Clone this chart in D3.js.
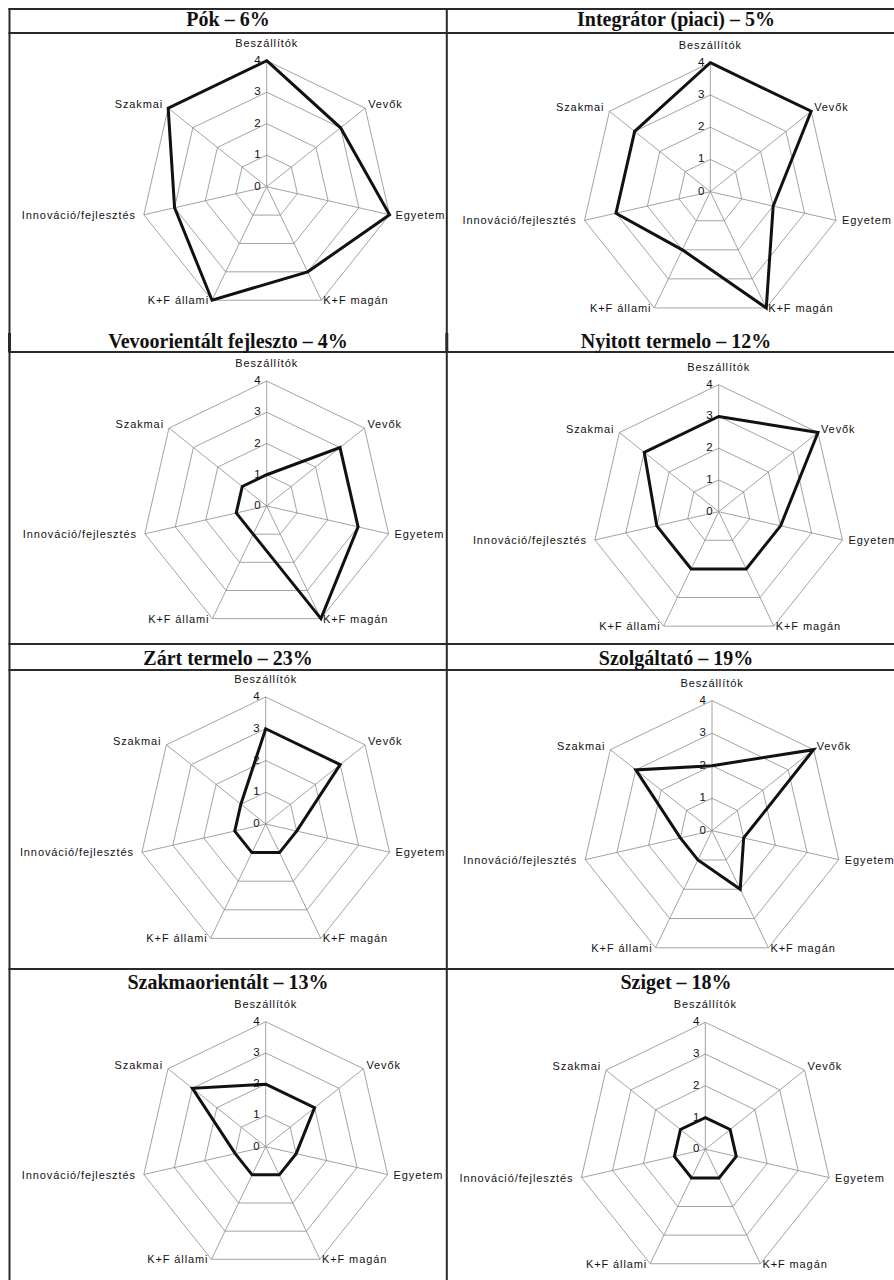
<!DOCTYPE html>
<html>
<head>
<meta charset="utf-8">
<script src="https://cdn.jsdelivr.net/npm/d3@7"></script>
<style>
  html, body { margin: 0; padding: 0; background: #fff; }
  svg { display: block; }
  .title { font-family: "Liberation Serif", "Times New Roman", serif; font-weight: bold; font-size: 20px; fill: #111; }
  .axlab { font-family: "Liberation Sans", Arial, sans-serif; font-size: 11px; letter-spacing: 0.9px; fill: #111; }
  .tick { font-family: "Liberation Sans", Arial, sans-serif; font-size: 11.5px; fill: #111; }
</style>
</head>
<body>
<svg id="chart" width="894" height="1280"></svg>
<script>
// ---- data ----
const categories = ["Beszállítók", "Vevők", "Egyetem", "K+F magán", "K+F állami", "Innováció/fejlesztés", "Szakmai"];
const tickValues = [0, 1, 2, 3, 4];
const titles = [
  "Pók – 6%", "Integrátor (piaci) – 5%",
  "Vevoorientált fejleszto – 4%", "Nyitott termelo – 12%",
  "Zárt termelo – 23%", "Szolgáltató – 19%",
  "Szakmaorientált – 13%", "Sziget – 18%"
];
const pok            = [4, 3, 4, 3, 4, 3, 4];
const integrator     = [4, 4, 2, 4, 2, 3, 3];
const vevoorientalt  = [1, 3, 3, 4, 1, 1, 1];
const nyitott        = [3, 4, 2, 2, 2, 2, 3];
const zart           = [3, 3, 1, 1, 1, 1, 1];
const szolgaltato    = [2, 4, 1, 2, 1, 1, 3];
const szakmaorientalt= [2, 2, 1, 1, 1, 1, 3];
const sziget         = [1, 1, 1, 1, 1, 1, 1];
const seriesList = [pok, integrator, vevoorientalt, nyitott, zart, szolgaltato, szakmaorientalt, sziget];

// ---- layout (positions, not data) ----
const panelLayout = [
  {cx: 266.7, cy: 186.7, r: 126, tx: 228, ty: 25.5},
  {cx: 710.3, cy: 191.7, r: 129, tx: 676, ty: 25.5},
  {cx: 266.7, cy: 506,   r: 125, tx: 228, ty: 347.5},
  {cx: 718.7, cy: 511.7, r: 127, tx: 676, ty: 347.5},
  {cx: 265.7, cy: 824,   r: 127, tx: 228, ty: 665},
  {cx: 712,   cy: 830.7, r: 130, tx: 676, ty: 665},
  {cx: 265.7, cy: 1146.7,r: 125, tx: 228, ty: 988.5},
  {cx: 705.3, cy: 1149.3,r: 127, tx: 676, ty: 988.5}
];
const labelOffsets = [
  {dx: 0,  dy: -14, anchor: "middle"},
  {dx: 3,  dy: 0,   anchor: "start"},
  {dx: 6,  dy: 4,   anchor: "start"},
  {dx: 2,  dy: 4,   anchor: "start"},
  {dx: -3, dy: 4,   anchor: "end"},
  {dx: -8, dy: 4,   anchor: "end"},
  {dx: -5, dy: 0,   anchor: "end"}
];

const svg = d3.select("#chart");
const n = categories.length;
const angle = d3.scaleLinear().domain([0, n]).range([0, 2 * Math.PI]);

// ---- table frame ----
const frame = svg.append("g").attr("stroke", "#2a2a2a").attr("fill", "none");
[9, 33, 352, 644, 670, 969].forEach(y => {
  frame.append("line").attr("x1", 8.5).attr("x2", 894).attr("y1", y).attr("y2", y).attr("stroke-width", 2.2);
});
[9.5, 446.8].forEach(x => {
  frame.append("line").attr("x1", x).attr("x2", x).attr("y1", 8).attr("y2", 1280).attr("stroke-width", 2);
  frame.append("line").attr("x1", x).attr("x2", x).attr("y1", 333).attr("y2", 352).attr("stroke-width", 3);
});

// ---- panels ----
panelLayout.forEach((p, k) => {
  const values = seriesList[k];
  const r = d3.scaleLinear().domain([0, 4]).range([0, p.r]);
  const g = svg.append("g").attr("transform", `translate(${p.cx},${p.cy})`);
  const pt = (i, v) => [Math.sin(angle(i)) * r(v), -Math.cos(angle(i)) * r(v)];

  // grid polygons
  tickValues.filter(t => t > 0).forEach(t => {
    g.append("path")
      .attr("d", d3.line().curve(d3.curveLinearClosed)(d3.range(n).map(i => pt(i, t))))
      .attr("fill", "none").attr("stroke", "#8c8c8c").attr("stroke-width", 0.8);
  });
  // spokes
  d3.range(n).forEach(i => {
    const e = pt(i, 4);
    g.append("line").attr("x1", 0).attr("y1", 0).attr("x2", e[0]).attr("y2", e[1])
      .attr("stroke", "#8c8c8c").attr("stroke-width", 0.8);
  });
  // tick labels
  tickValues.forEach(t => {
    g.append("text").attr("class", "tick")
      .attr("x", -6).attr("y", -r(t) + 3)
      .attr("text-anchor", "end").text(t);
  });
  // axis labels
  categories.forEach((c, i) => {
    const e = pt(i, 4), o = labelOffsets[i];
    g.append("text").attr("class", "axlab")
      .attr("x", e[0] + o.dx).attr("y", e[1] + o.dy)
      .attr("text-anchor", o.anchor).text(c);
  });
  // data polygon
  g.append("path")
    .attr("d", d3.lineRadial().angle((d, i) => angle(i)).radius(d => r(d)).curve(d3.curveLinearClosed)(values))
    .attr("fill", "none").attr("stroke", "#111").attr("stroke-width", 3).attr("stroke-linejoin", "miter");

  // title
  svg.append("text").attr("class", "title")
    .attr("x", p.tx).attr("y", p.ty).attr("text-anchor", "middle").text(titles[k]);
});
</script>
</body>
</html>
